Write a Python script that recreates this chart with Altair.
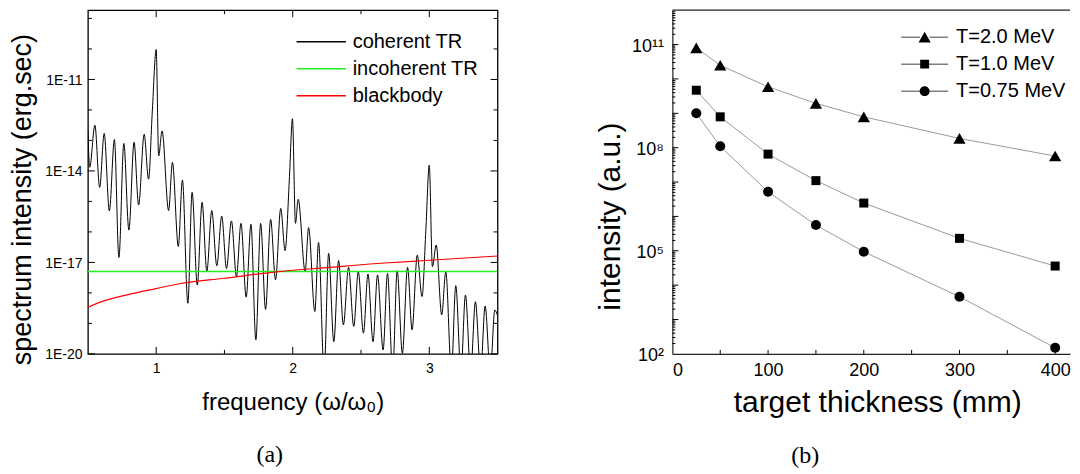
import altair as alt
import pandas as pd

FONT = "Liberation Sans"
SERIF = "Liberation Serif"

# ---------------- panel (a): spectrum intensity ----------------
coh_x = [0.500, 0.513, 0.551, 0.586, 0.619, 0.657, 0.694, 0.727, 0.763, 0.800,
         0.838, 0.871, 0.912, 0.944, 0.972, 1.000, 1.018, 1.043, 1.091, 1.119,
         1.162, 1.192, 1.232, 1.263, 1.301, 1.336, 1.371, 1.407, 1.444, 1.480,
         1.515, 1.551, 1.588, 1.621, 1.659, 1.694, 1.730, 1.765, 1.801, 1.838,
         1.874, 1.912, 1.944, 1.975, 1.998, 2.020, 2.040, 2.091, 2.116, 2.162,
         2.189, 2.230, 2.263, 2.301, 2.336, 2.371, 2.409, 2.447, 2.480, 2.518,
         2.551, 2.588, 2.621, 2.662, 2.694, 2.732, 2.765, 2.803, 2.841, 2.874,
         2.912, 2.947, 2.975, 3.000, 3.023, 3.051, 3.091, 3.121, 3.162, 3.194,
         3.232, 3.265, 3.303, 3.338, 3.376, 3.409, 3.447, 3.480, 3.500]
coh_exp = [-12.66, -13.88, -12.50, -14.54, -12.77, -15.31, -12.97, -16.84, -13.10, -15.94,
           -13.06, -15.12, -12.80, -14.27, -12.00, -10.02, -13.51, -12.69, -15.30, -13.72,
           -16.48, -14.30, -18.34, -14.70, -17.74, -15.03, -17.29, -15.30, -17.11, -15.48,
           -17.20, -15.64, -17.47, -15.72, -18.14, -15.75, -19.54, -15.72, -18.54, -15.59,
           -17.57, -15.23, -16.61, -14.30, -12.29, -15.72, -14.93, -17.30, -15.86, -18.61,
           -16.35, -20.60, -16.70, -19.60, -16.94, -19.05, -17.16, -19.10, -17.30, -19.32,
           -17.38, -19.60, -17.41, -19.87, -17.36, -20.60, -17.27, -19.98, -17.16, -19.21,
           -16.76, -18.12, -15.94, -13.81, -17.14, -16.43, -18.72, -17.31, -20.60, -17.76,
           -20.60, -18.07, -20.60, -18.29, -20.60, -18.43, -20.60, -18.56, -18.75]
bb_x = [0.5, 0.606, 0.732, 0.859, 1.0, 1.168, 1.5, 1.898, 2.25, 2.672, 3.0, 3.5]
bb_exp = [-18.47, -18.28, -18.12, -17.99, -17.86, -17.70, -17.52, -17.30, -17.17, -17.02, -16.93, -16.79]
inc_x = [0.5, 3.5]
inc_exp = [-17.30, -17.30]

series_a = ["coherent TR", "incoherent TR", "blackbody"]
colors_a = ["#000000", "#22ee22", "#ff0000"]
xa_major = [1, 2, 3]
xa_minor = [1.5, 2.5]
ya_labels = [1e-20, 1e-17, 1e-14, 1e-11]
ya_minor = [1e-19, 1e-18, 1e-16, 1e-15, 1e-13, 1e-12, 1e-10, 1e-9]

# ---------------- panel (b): intensity vs thickness ----------------
thickness = [25, 50, 100, 150, 200, 300, 400]
t20 = [8.0e10, 2.5e10, 5.9e9, 1.95e9, 7.9e8, 1.86e8, 5.7e7]
t10 = [4.7e9, 7.9e8, 6.5e7, 1.1e7, 2.45e6, 2.3e5, 3.6e4]
t075 = [1.0e9, 1.1e8, 5.2e6, 5.6e5, 9.4e4, 4.6e3, 1.5e2]
series_b = ["T=2.0 MeV", "T=1.0 MeV", "T=0.75 MeV"]
shapes_b = ["triangle-up", "square", "circle"]
sizes_b = [150, 81, 100]
# legend glyphs: thin line through a marker (line drawn as a thin filled bar)
legend_paths = [
    "M-1,-0.014H-0.2V0.014H-1ZM0.2,-0.014H1V0.014H0.2ZM0,-0.23L0.26,0.23L-0.26,0.23Z",
    "M-1,-0.014H-0.18V0.014H-1ZM0.18,-0.014H1V0.014H0.18ZM-0.19,-0.19H0.19V0.19H-0.19Z",
    "M-1,-0.014H-0.18V0.014H-1ZM0.18,-0.014H1V0.014H0.18ZM-0.21,0A0.21,0.21,0,1,1,0.21,0A0.21,0.21,0,1,1,-0.21,0Z",
]
xb_labels = [0, 100, 200, 300, 400]
xb_ticks = [50, 100, 150, 200, 250, 300, 350, 400]
yb_labels = [1e2, 1e5, 1e8, 1e11]
yb_major = [10.0 ** k for k in range(3, 12)]
yb_minor = [m * 10.0 ** k for k in range(2, 12) for m in range(2, 10)]

W_A, H_A = 410, 344
W_B, H_B = 398, 344
XB_MAX = 415.5

xa = alt.Scale(domain=[0.5, 3.5], nice=False, zero=False)
ya = alt.Scale(type="log", domain=[1e-20, 10 ** -8.73], nice=False)
xb = alt.Scale(domain=[0, XB_MAX], nice=False, zero=False)
yb = alt.Scale(type="log", domain=[1e2, 1e12], nice=False)

# ---- axes (shared by every layer of a panel) ----
x_axis_a = alt.Axis(values=xa_major, format="d", ticks=False, tickSize=0, domain=False,
                    grid=False, labelFont=FONT, labelFontSize=14, labelPadding=8,
                    labelColor="black", title="frequency (ω/ω₀)", titleFont=FONT,
                    titleFontSize=24, titleFontWeight="normal", titleColor="black",
                    titleY=56, titleBaseline="alphabetic")
y_axis_a = alt.Axis(values=ya_labels,
                    labelExpr="'1E-' + round(-log(datum.value)/LN10)",
                    ticks=False, tickSize=0, domain=False, grid=False,
                    labelFont=FONT, labelFontSize=14, labelPadding=6, labelOffset=1,
                    labelColor="black", title="spectrum intensity (erg.sec)",
                    titleFont=FONT, titleFontSize=27, titleFontWeight="normal",
                    titleColor="black", titleAngle=270, titleX=-65, titleY=189,
                    titleBaseline="middle", titleAlign="center")
x_axis_b = alt.Axis(values=xb_labels, format="d", ticks=False, tickSize=0, domain=True,
                    domainColor="#222222", domainWidth=1.2, grid=False,
                    labelFont=FONT, labelFontSize=18, labelPadding=8, labelColor="black",
                    title="target thickness (mm)", titleFont=FONT, titleFontSize=30,
                    titleFontWeight="normal", titleColor="black", titleX=205, titleY=58,
                    titleBaseline="alphabetic", titleAlign="center")
y_axis_b = alt.Axis(values=yb_labels,
                    labelExpr="datum.value > 0.9e11 ? '10¹¹' : datum.value > 0.9e8 ? '10⁸' : datum.value > 0.9e5 ? '10⁵' : '10²'",
                    ticks=False, tickSize=0, domain=True, domainColor="#222222",
                    domainWidth=1.2, grid=False, labelFont=FONT, labelFontSize=18,
                    labelPadding=9, labelOffset=2, labelColor="black",
                    title="intensity (a.u.)", titleFont=FONT, titleFontSize=30,
                    titleFontWeight="normal", titleColor="black", titleAngle=270,
                    titleX=-62, titleY=206, titleBaseline="middle", titleAlign="center")


def ytick_layer(vals, length, side, scale, axis, width):
    df = pd.DataFrame({"v": vals})
    if side == "left":
        x, x2 = alt.value(0), alt.value(length)
    else:
        x, x2 = alt.value(width - length), alt.value(width)
    return alt.Chart(df).mark_rule(color="black", strokeWidth=1).encode(
        y=alt.Y("v:Q", scale=scale, axis=axis), x=x, x2=x2)


def xtick_layer(vals, length, side, scale, axis, height):
    df = pd.DataFrame({"v": vals})
    if side == "bottom":
        y, y2 = alt.value(height), alt.value(height - length)
    else:
        y, y2 = alt.value(0), alt.value(length)
    return alt.Chart(df).mark_rule(color="black", strokeWidth=1).encode(
        x=alt.X("v:Q", scale=scale, axis=axis), y=y, y2=y2)


# ---- panel (a) layers ----
def frame_a(xs, es, name):
    return pd.DataFrame({"x": xs, "y": [10.0 ** e for e in es], "series": name})


legend_a = alt.Legend(title=None, orient="none", legendX=208, legendY=21.5,
                      symbolType="stroke", symbolSize=2440, symbolStrokeWidth=1.5,
                      labelFont=FONT, labelFontSize=20, labelColor="black",
                      labelOffset=6, rowPadding=7, clipHeight=20, padding=0,
                      labelLimit=300)
color_a = alt.Color("series:N", scale=alt.Scale(domain=series_a, range=colors_a),
                    legend=legend_a)


def line_a(df, width, interp):
    return alt.Chart(df).mark_line(interpolate=interp, clip=True, strokeWidth=width).encode(
        x=alt.X("x:Q", scale=xa, axis=x_axis_a),
        y=alt.Y("y:Q", scale=ya, axis=y_axis_a),
        color=color_a)


coh = line_a(frame_a(coh_x, coh_exp, series_a[0]), 1, "monotone")
inc = line_a(frame_a(inc_x, inc_exp, series_a[1]), 1.6, "linear")
bb = line_a(frame_a(bb_x, bb_exp, series_a[2]), 1.2, "monotone")

ticks_a = [
    xtick_layer(xa_major, 7, "bottom", xa, x_axis_a, H_A),
    xtick_layer(xa_minor, 4, "bottom", xa, x_axis_a, H_A),
    xtick_layer(xa_major, 7, "top", xa, x_axis_a, H_A),
    xtick_layer(xa_minor, 4, "top", xa, x_axis_a, H_A),
    ytick_layer(ya_labels, 7, "left", ya, y_axis_a, W_A),
    ytick_layer(ya_minor, 4, "left", ya, y_axis_a, W_A),
    ytick_layer(ya_labels, 7, "right", ya, y_axis_a, W_A),
    ytick_layer(ya_minor, 4, "right", ya, y_axis_a, W_A),
]

panel_a = alt.layer(coh, inc, bb, *ticks_a).properties(
    width=W_A, height=H_A,
    view=alt.ViewBackground(stroke="black", strokeWidth=1.3),
    title=alt.TitleParams(text="(a)", orient="bottom", anchor="middle", frame="group",
                          font=SERIF, fontSize=24, fontWeight="normal", color="black",
                          dx=-23, offset=47, baseline="alphabetic"))

# ---- panel (b) layers ----
df_b = pd.concat([
    pd.DataFrame({"t": thickness, "I": vals, "series": name})
    for vals, name in zip([t20, t10, t075], series_b)
], ignore_index=True)

xenc_b = alt.X("t:Q", scale=xb, axis=x_axis_b)
yenc_b = alt.Y("I:Q", scale=yb, axis=y_axis_b)

lines_b = alt.Chart(df_b).mark_line(color="#808080", strokeWidth=0.8).encode(
    x=xenc_b, y=yenc_b, detail="series:N")

points_b = []
for name, shp, sz in zip(series_b, shapes_b, sizes_b):
    points_b.append(
        alt.Chart(df_b).transform_filter(alt.datum.series == name).mark_point(
            shape=shp, filled=True, color="black", size=sz, opacity=1).encode(
            x=xenc_b, y=yenc_b))

legend_b = alt.Legend(title=None, orient="none", legendX=228, legendY=17,
                      symbolSize=2209, clipHeight=20, rowPadding=7,
                      labelFont=FONT, labelFontSize=20, labelColor="black",
                      labelOffset=7, padding=0, symbolFillColor="black",
                      symbolOpacity=1, labelLimit=300)
legend_layer_b = alt.Chart(df_b).transform_filter("false").mark_point(
    filled=True, color="black").encode(
    x=xenc_b, y=yenc_b,
    shape=alt.Shape("series:N", scale=alt.Scale(domain=series_b, range=legend_paths),
                    legend=legend_b))

top_line_b = alt.Chart(pd.DataFrame({"v": [0]})).mark_rule(
    color="#222222", strokeWidth=1.2).encode(
    y=alt.value(0), x=alt.value(0), x2=alt.value(W_B))

ticks_b = [
    ytick_layer(yb_major, 6, "left", yb, y_axis_b, W_B),
    ytick_layer(yb_minor, 3, "left", yb, y_axis_b, W_B),
    xtick_layer(xb_ticks, 4, "bottom", xb, x_axis_b, H_B),
]

panel_b = alt.layer(lines_b, *points_b, legend_layer_b, top_line_b, *ticks_b).properties(
    width=W_B, height=H_B,
    title=alt.TitleParams(text="(b)", orient="bottom", anchor="middle", frame="group",
                          font=SERIF, fontSize=24, fontWeight="normal", color="black",
                          dx=-66, offset=45, baseline="alphabetic"))

chart = alt.hconcat(panel_a, panel_b, spacing=95).resolve_legend(
    color="independent", shape="independent"
).properties(
    padding={"left": 0, "top": 0, "right": 0, "bottom": 0}
).configure(font=FONT).configure_view(stroke="transparent")

chart.save("out.html", embed_options={"renderer": "svg", "actions": False})
